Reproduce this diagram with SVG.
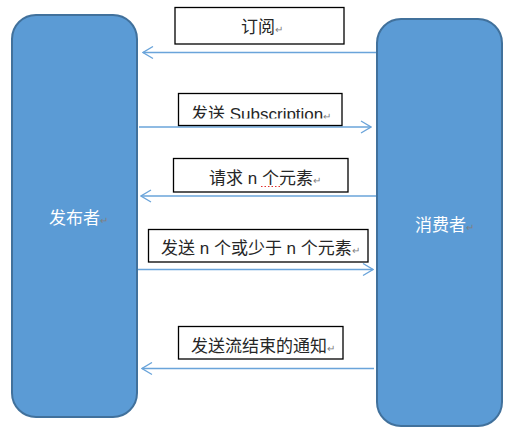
<svg xmlns="http://www.w3.org/2000/svg" width="520" height="436" viewBox="0 0 520 436">
<style>
.node{fill:#5b9bd5;stroke:#41719c;stroke-width:2}
.lbl{fill:#ffffff;stroke:#000000;stroke-width:1.3}
.t{font-family:"Liberation Sans","Noto Sans CJK SC",sans-serif;font-size:17px;fill:#262626}
.w{fill:#ffffff}
.pm{font-size:10px;fill:#808080}
.conn{stroke:#6aa4da;stroke-width:1.6;fill:none;marker-end:url(#arr)}
</style>
<defs>
<marker id="arr" viewBox="0 0 12 14" refX="11" refY="7" markerWidth="12" markerHeight="14" markerUnits="userSpaceOnUse" orient="auto">
<path d="M1,1 L11,7 L1,13" fill="none" stroke="#6aa4da" stroke-width="1.3"/>
</marker>
<clipPath id="c2"><rect x="178" y="93" width="164" height="25.5"/></clipPath>
</defs>
<rect width="520" height="436" fill="#ffffff"/>
<g id="publisher">
<rect class="node" x="12" y="15" width="125" height="402" rx="24"/>
<text class="t w" x="49" y="224">发布者<tspan class="pm">↵</tspan></text>
</g>
<g id="consumer">
<rect class="node" x="377" y="19" width="125" height="407" rx="24"/>
<text class="t w" x="415" y="231">消费者<tspan class="pm">↵</tspan></text>
</g>
<g id="connectors">
<line class="conn" x1="376" y1="52.5" x2="143" y2="52.5"/>
<line class="conn" x1="139" y1="127" x2="371" y2="127"/>
<line class="conn" x1="376" y1="196" x2="141" y2="196"/>
<line class="conn" x1="138" y1="269.5" x2="373" y2="269.5"/>
<line class="conn" x1="374" y1="368.5" x2="142" y2="368.5"/>
</g>
<g id="label-subscribe">
<rect class="lbl" x="175" y="7.5" width="169" height="36.5"/>
<text class="t" x="241" y="33">订阅<tspan class="pm">↵</tspan></text>
</g>
<g id="label-send-subscription">
<rect class="lbl" x="178.5" y="93.5" width="163.5" height="32"/>
<text class="t" x="191" y="120" clip-path="url(#c2)">发送 Subscription<tspan class="pm">↵</tspan></text>
</g>
<g id="label-request">
<rect class="lbl" x="173.5" y="158.5" width="174.5" height="33.5"/>
<text class="t" x="209" y="184">请求 n 个元素<tspan class="pm">↵</tspan></text>
<line x1="261" y1="186.5" x2="280" y2="186.5" stroke="#e03030" stroke-width="1" stroke-dasharray="1.5,2"/>
</g>
<g id="label-send-elements">
<rect class="lbl" x="148.5" y="229.5" width="219.5" height="32.5"/>
<text class="t" x="161" y="254">发送 n 个或少于 n 个元素<tspan class="pm">↵</tspan></text>
</g>
<g id="label-complete">
<rect class="lbl" x="178.5" y="326.5" width="164.5" height="32.5"/>
<text class="t" x="191" y="352">发送流结束的通知<tspan class="pm">↵</tspan></text>
</g>
</svg>
